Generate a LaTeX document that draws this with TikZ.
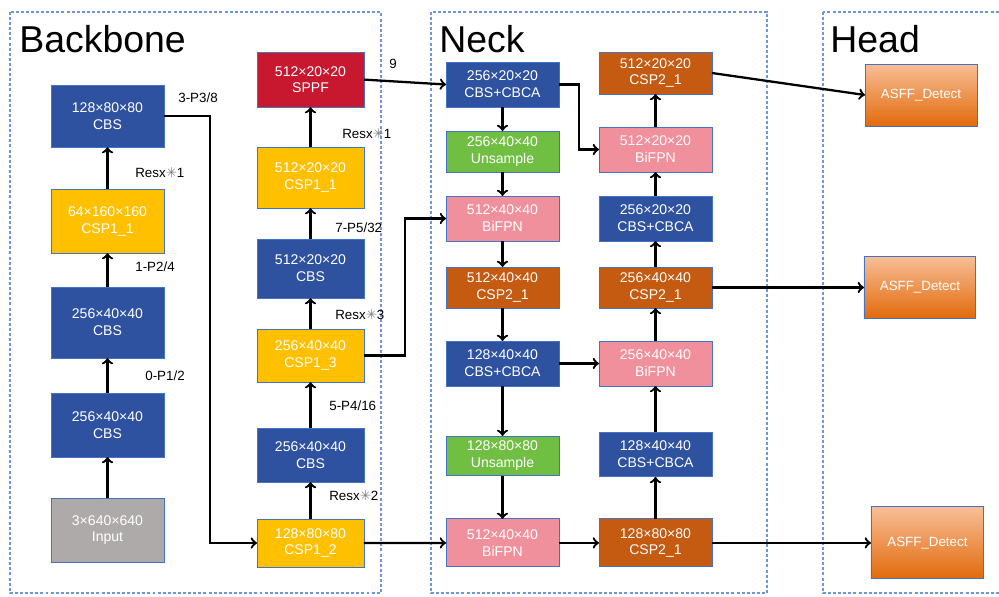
\documentclass[tikz,border=0pt]{standalone}
\usepackage{fontspec}
\setmainfont{Liberation Sans}
\newfontfamily\dingfont{DejaVu Sans}
\usepackage{xcolor}
\usepackage{tikz}
\usetikzlibrary{positioning, calc}

\definecolor{cbsblue}{RGB}{47,82,160}
\definecolor{cspyellow}{RGB}{255,192,0}
\definecolor{sppfred}{RGB}{200,24,47}
\definecolor{bifpnpink}{RGB}{240,144,156}
\definecolor{csptwobrown}{RGB}{197,90,17}
\definecolor{upgreen}{RGB}{112,191,66}
\definecolor{inputgray}{RGB}{174,170,170}
\definecolor{detecttop}{RGB}{248,190,150}
\definecolor{detectbottom}{RGB}{226,106,12}
\definecolor{boxedge}{RGB}{68,114,196}
\definecolor{frameblue}{RGB}{110,150,220}

\newcommand{\resx}[1]{Resx{\dingfont\textcolor{black!50}{✳}}#1}

\begin{document}
\begin{tikzpicture}[x=0.02cm, y=-0.02cm,
					BoxNode/.style={draw=boxedge, line width=0.5pt, text=white, font=\fontsize{8}{9.6}\selectfont, align=center, inner sep=0pt, outer sep=0pt, minimum width=2.26cm, minimum height=0.9cm},
					CbsNode/.style={BoxNode, fill=cbsblue},
					CspNode/.style={BoxNode, fill=cspyellow},
					SppfNode/.style={BoxNode, fill=sppfred},
					BifpnNode/.style={BoxNode, fill=bifpnpink},
					CspTwoNode/.style={BoxNode, fill=csptwobrown},
					UpNode/.style={BoxNode, fill=upgreen},
					InputNode/.style={BoxNode, fill=inputgray},
					DetectNode/.style={BoxNode, top color=detecttop, bottom color=detectbottom, font=\fontsize{7.6}{9}\selectfont, minimum width=2.24cm, minimum height=1.24cm},
					LabelNode/.style={font=\fontsize{7.6}{9}\selectfont, anchor=west, inner sep=0pt},
					TitleNode/.style={font=\fontsize{21.3}{24}\selectfont, anchor=base west, inner sep=0pt},
					FrameLine/.style={draw=frameblue, line width=0.6pt, dash pattern=on 1.7pt off 1.2pt},
					LinkArrow/.style={line width=1.3pt, ->}]

				\useasboundingbox (0,0) rectangle (999,596);

				% Frames
				\draw[FrameLine] (10,12) rectangle (381,593);
				\draw[FrameLine] (431,12) rectangle (767,593);
				\draw[FrameLine] (823,12) rectangle (1010,593);
				\node[TitleNode] (TitleBackbone) at (19,52) {Backbone};
				\node[TitleNode] (TitleNeck) at (439,52) {Neck};
				\node[TitleNode] (TitleHead) at (830,52) {Head};

				% Backbone
				\node[InputNode, minimum height=1.28cm] (Input) at (107.5,530) {3×640×640\\Input};
				\node[CbsNode, minimum height=1.28cm, above=0.82cm of Input] (BbCbsA) {256×40×40\\CBS};
				\node[CbsNode, minimum height=1.42cm, above=0.70cm of BbCbsA] (BbCbsB) {256×40×40\\CBS};
				\node[CspNode, minimum height=1.28cm, above=0.68cm of BbCbsB] (BbCspA) {64×160×160\\CSP1\_1};
				\node[CbsNode, minimum height=1.24cm, above=0.84cm of BbCspA] (BbCbsC) {128×80×80\\CBS};

				\node[CspNode, minimum width=2.14cm, minimum height=0.96cm] (BbCspB) at (310.5,543) {128×80×80\\CSP1\_2};
				\node[CbsNode, minimum width=2.14cm, minimum height=1.08cm, above=0.74cm of BbCspB] (BbCbsD) {256×40×40\\CBS};
				\node[CspNode, minimum width=2.14cm, minimum height=1.06cm, above=0.92cm of BbCbsD] (BbCspC) {256×40×40\\CSP1\_3};
				\node[CbsNode, minimum width=2.14cm, minimum height=1.18cm, above=0.62cm of BbCspC] (BbCbsE) {512×20×20\\CBS};
				\node[CspNode, minimum width=2.14cm, minimum height=1.22cm, above=0.62cm of BbCbsE] (BbCspD) {512×20×20\\CSP1\_1};
				\node[SppfNode, minimum width=2.14cm, minimum height=1.10cm, above=0.80cm of BbCspD] (Sppf) {512×20×20\\SPPF};

				% Neck
				\node[CbsNode] (NkCbsA) at (502.5,84.5) {256×20×20\\CBS+CBCA};
				\node[UpNode, minimum height=0.82cm, below=0.48cm of NkCbsA] (NkUpA) {256×40×40\\Unsample};
				\node[BifpnNode, below=0.48cm of NkUpA] (NkBiA) {512×40×40\\BiFPN};
				\node[CspTwoNode, minimum height=0.82cm, below=0.52cm of NkBiA] (NkCspA) {512×40×40\\CSP2\_1};
				\node[CbsNode, below=0.66cm of NkCspA] (NkCbsB) {128×40×40\\CBS+CBCA};
				\node[UpNode, minimum height=0.80cm, below=1.0cm of NkCbsB] (NkUpB) {128×80×80\\Unsample};
				\node[BifpnNode, minimum height=0.96cm, below=0.86cm of NkUpB] (NkBiB) {512×40×40\\BiFPN};

				\node[CspTwoNode, minimum height=0.96cm, right=0.8cm of NkBiB] (NkCspB) {128×80×80\\CSP2\_1};
				\node[CbsNode, above=0.84cm of NkCspB] (NkCbsC) {128×40×40\\CBS+CBCA};
				\node[BifpnNode, right=0.8cm of NkCbsB] (NkBiC) {256×40×40\\BiFPN};
				\node[CspTwoNode, minimum height=0.82cm, right=0.8cm of NkCspA] (NkCspC) {256×40×40\\CSP2\_1};
				\node[CbsNode, right=0.8cm of NkBiA] (NkCbsD) {256×20×20\\CBS+CBCA};
				\node[BifpnNode, above=0.48cm of NkCbsD] (NkBiD) {512×20×20\\BiFPN};
				\node[CspTwoNode, minimum height=0.84cm, above=0.66cm of NkBiD] (NkCspD) {512×20×20\\CSP2\_1};

				% Head
				\node[DetectNode] (DetA) at (921,95) {ASFF\_Detect};
				\node[DetectNode, right=3.04cm of NkCspC] (DetB) {ASFF\_Detect};
				\node[DetectNode, minimum width=2.26cm, minimum height=1.44cm, right=3.18cm of NkCspB] (DetC) {ASFF\_Detect};

				% Labels
				\node[LabelNode] (LbPthree) at (178,98) {3-P3/8};
				\node[LabelNode] (LbResA) at (135,173) {\resx{1}};
				\node[LabelNode] (LbPtwo) at (135,267) {1-P2/4};
				\node[LabelNode] (LbPone) at (145,376) {0-P1/2};
				\node[LabelNode] (LbNine) at (389,64) {9};
				\node[LabelNode] (LbResB) at (342,134) {\resx{1}};
				\node[LabelNode] (LbPfive) at (335,228) {7-P5/32};
				\node[LabelNode] (LbResC) at (335,315) {\resx{3}};
				\node[LabelNode] (LbPfour) at (329,406) {5-P4/16};
				\node[LabelNode] (LbResD) at (329,496) {\resx{2}};

				% Lines
				\draw[LinkArrow] (Input) to (BbCbsA);
				\draw[LinkArrow] (BbCbsA) to (BbCbsB);
				\draw[LinkArrow] (BbCbsB) to (BbCspA);
				\draw[LinkArrow] (BbCspA) to (BbCbsC);
				\draw[LinkArrow] (BbCbsC.east) -- ++(46,0) |- (BbCspB.west);
				\draw[LinkArrow] (BbCspB) to (BbCbsD);
				\draw[LinkArrow] (BbCbsD) to (BbCspC);
				\draw[LinkArrow] (BbCspC) to (BbCbsE);
				\draw[LinkArrow] (BbCbsE) to (BbCspD);
				\draw[LinkArrow] (BbCspD) to (Sppf);
				\draw[LinkArrow] (Sppf.east) to (NkCbsA.west);
				\draw[LinkArrow] (BbCspC.east) -- ++(41,0) |- (NkBiA.west);
				\draw[LinkArrow] (BbCspB) to (NkBiB);

				\draw[LinkArrow] (NkCbsA) to (NkUpA);
				\draw[LinkArrow] (NkUpA) to (NkBiA);
				\draw[LinkArrow] (NkBiA) to (NkCspA);
				\draw[LinkArrow] (NkCspA) to (NkCbsB);
				\draw[LinkArrow] (NkCbsB) to (NkUpB);
				\draw[LinkArrow] (NkUpB) to (NkBiB);
				\draw[LinkArrow] (NkBiB) to (NkCspB);
				\draw[LinkArrow] (NkCbsB) to (NkBiC);
				\draw[LinkArrow] (NkCbsA.east) -- ++(20,0) |- (NkBiD.west);

				\draw[LinkArrow] (NkCspB) to (NkCbsC);
				\draw[LinkArrow] (NkCbsC) to (NkBiC);
				\draw[LinkArrow] (NkBiC) to (NkCspC);
				\draw[LinkArrow] (NkCspC) to (NkCbsD);
				\draw[LinkArrow] (NkCbsD) to (NkBiD);
				\draw[LinkArrow] (NkBiD) to (NkCspD);

				\draw[LinkArrow] (NkCspD.east) to (DetA.west);
				\draw[LinkArrow] (NkCspC) to (DetB);
				\draw[LinkArrow] (NkCspB) to (DetC);
			\end{tikzpicture}
\end{document}
